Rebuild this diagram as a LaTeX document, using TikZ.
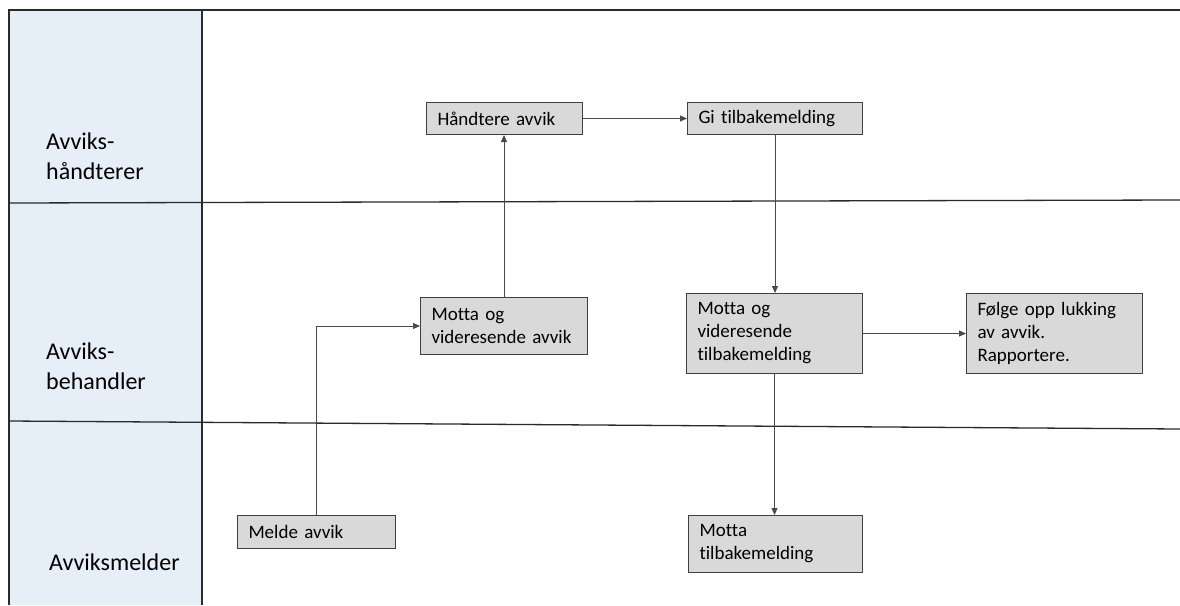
\documentclass[tikz,border=0pt]{standalone}
\usepackage{fontspec}
\setmainfont{Carlito}[Ligatures={NoCommon}]
\usetikzlibrary{arrows.meta}
\definecolor{lanebg}{HTML}{E6EEF8}
\definecolor{boxfill}{HTML}{D9D9D9}
\definecolor{boxline}{HTML}{404040}
\definecolor{lineclr}{HTML}{2A2A2A}
\definecolor{conn}{HTML}{4A4A4A}
\tikzset{
  lane/.style={draw=lineclr, line width=1.3pt},
  lanelabel/.style={align=left, inner sep=0pt, font=\fontsize{24}{30}\selectfont, text=black},
  procbox/.style={draw=boxline, fill=boxfill, line width=1pt, anchor=north west,
    inner xsep=11pt, inner ysep=0pt, align=left,
    font=\fontsize{19}{23}\selectfont, text=black},
  flow/.style={draw=conn, line width=1pt, -{Triangle[length=7pt,width=6pt]}},
  flowplain/.style={draw=conn, line width=1pt}
}
\begin{document}
\begin{tikzpicture}[x=1pt,y=-1pt]
\useasboundingbox (0,0) rectangle (1180,605);
% lane header column
\fill[lanebg] (9,10) rectangle (202,605);
\draw[lane] (1180,10) -- (9,10) -- (9,605);
\draw[lane] (202,10) -- (202,605);
\draw[lane] (9,203) -- (1180,200);
\draw[lane] (9,421) -- (1180,429);
% lane labels
\node[lanelabel, anchor=west] (l1) at (46,156) {Avviks-\\håndterer};
\node[lanelabel, anchor=west] (l2) at (46,366) {Avviks-\\behandler};
\node[lanelabel, anchor=base west] (l3) at (49,570) {Avviksmelder};
% process boxes
\node[procbox, minimum width=156pt, text width=134pt, minimum height=32pt] (hand) at (426,102) {Håndtere avvik};
\node[procbox, minimum width=175pt, text width=153pt, minimum height=32pt] (gi) at (687,102) {Gi tilbakemelding};
\node[procbox, minimum width=167pt, text width=145pt, minimum height=57pt] (mva) at (420,297) {Motta og\\videresende avvik};
\node[procbox, minimum width=176pt, text width=154pt, minimum height=80pt] (mvt) at (686,293) {Motta og\\videresende\\tilbakemelding};
\node[procbox, minimum width=176pt, text width=154pt, minimum height=80pt] (folg) at (966,293) {Følge opp lukking\\av avvik.\\Rapportere.};
\node[procbox, minimum width=158pt, text width=136pt, minimum height=33pt] (melde) at (237,515) {Melde avvik};
\node[procbox, minimum width=174pt, text width=152pt, minimum height=57pt] (mt) at (688,515) {Motta\\tilbakemelding};
% connectors
\draw[flow] (melde.north) |- (mva.west);
\draw[flow] (mva.north) -- (mva.north |- hand.south);
\draw[flow] (hand.east) -- (gi.west);
\draw[flow] (gi.south) -- (gi.south |- mvt.north);
\draw[flow] (mvt.east) -- (mvt.east -| folg.west);
\draw[flow] (mvt.south) -- (mvt.south |- mt.north);
\end{tikzpicture}
\end{document}
